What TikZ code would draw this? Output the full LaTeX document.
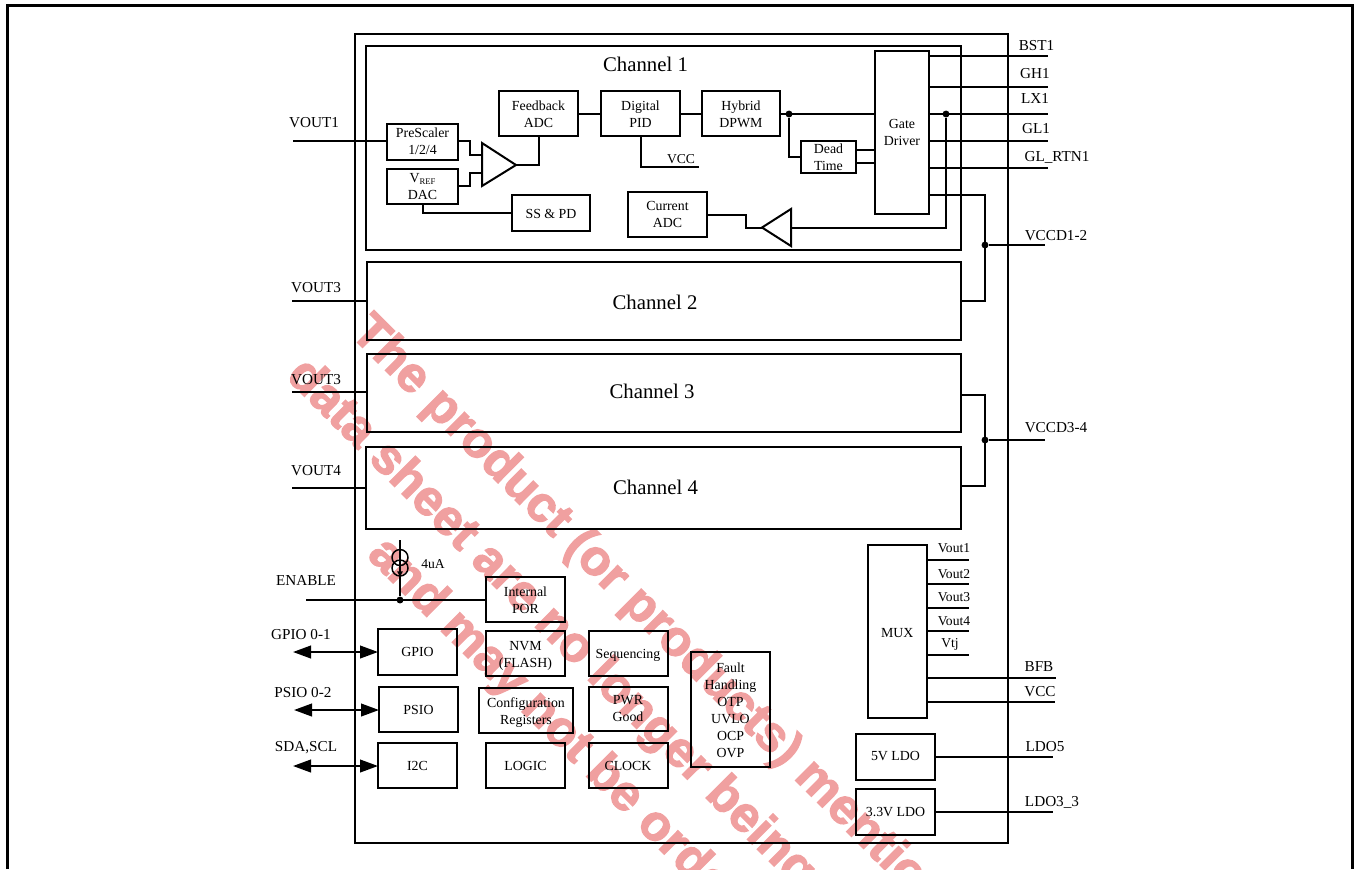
\documentclass[tikz,border=0pt]{standalone}
\usepackage{fontspec}
\setmainfont{Liberation Serif}
\newfontfamily\wmfont[UprightFont=* Bold,UprightFeatures={FakeBold=2.5}]{Liberation Sans}
\usetikzlibrary{arrows.meta,calc}
\definecolor{wmpink}{RGB}{240,160,160}
\newcommand{\dn}{\rule{0pt}{8.6pt}}
\newcommand{\dnn}{\rule{0pt}{10pt}}
\tikzset{
  x=0.75pt,y=-0.75pt,
  wire/.style={line width=1.5pt,line join=miter},
  thinwire/.style={line width=1.2pt},
  blk/.style={draw,line width=1.5pt,inner sep=0pt,outer sep=0pt,align=center,font=\fontsize{10.4}{12.75}\selectfont},
  chan/.style={blk},
  chlabel/.style={inner sep=0pt,outer sep=0pt,font=\fontsize{15.6}{19}\selectfont},
  pin/.style={inner sep=0pt,outer sep=0pt,yshift=-0.75pt,font=\fontsize{11.4}{14}\selectfont},
  small/.style={inner sep=0pt,outer sep=0pt,yshift=-0.75pt,font=\fontsize{10.2}{12}\selectfont},
  junction/.style={circle,fill,inner sep=0pt,minimum size=5.2pt},
  bus/.style={wire,{Triangle[length=13.5pt,width=9.5pt]}-{Triangle[length=13.5pt,width=9.5pt]}},
  wm/.style={anchor=base west,inner sep=0pt,rotate=-45,text=wmpink,font=\wmfont\fontsize{37.5}{46}\selectfont}
}
% name, x1, y1, x2, y2, text, style
\newcommand{\blkbox}[7][blk]{%
  \pgfmathsetmacro{\bw}{(#5-#3)*0.75}%
  \pgfmathsetmacro{\bh}{(#6-#4)*0.75}%
  \node[#1,minimum width=\bw pt,minimum height=\bh pt] (#2) at ({(#3+#5)/2},{(#4+#6)/2}) {#7};%
}
\begin{document}
\begin{tikzpicture}
\useasboundingbox (0,0) rectangle (1354,869);
% watermark
\begin{scope}
\clip (0,0) rectangle (1354,869);
\node[wm] (wmA) at (349,334) {The product (or products) mentio};
\node[wm] (wmB) at (285,377) {data sheet are no longer being};
\node[wm] (wmC) at (366,556) {and may not be orde};
\end{scope}
% page frame
\draw[line width=2.5pt] (7.5,869) -- (7.5,5.5) -- (1352.2,5.5) -- (1352.2,869);
% chip
\blkbox{chip}{354.5}{33.5}{1007.5}{843}{}
% channels
\blkbox[chan]{ch1}{366}{45.5}{961}{249.5}{}
\node[chlabel] (ch1t) at (645.5,64) {Channel 1};
\blkbox[chan]{ch2}{367}{262}{961}{340}{}
\node[chlabel] (ch2t) at (655,302) {Channel 2};
\blkbox[chan]{ch3}{367}{353.5}{961}{432}{}
\node[chlabel] (ch3t) at (652,391) {Channel 3};
\blkbox[chan]{ch4}{366}{447}{961}{529}{}
\node[chlabel] (ch4t) at (655.5,487) {Channel 4};
% channel 1 blocks
\blkbox{pre}{387}{123.5}{458}{159.5}{PreScaler\\1/2/4}
\blkbox{dac}{387}{169}{458}{204}{V\raisebox{-0.35ex}{\fontsize{6.5}{7}\selectfont REF}\\DAC}
\blkbox{fadc}{499}{91}{578}{136}{\dn Feedback\\ADC}
\blkbox{pid}{601}{91}{680}{136}{\dn Digital\\PID}
\blkbox{pwm}{702}{91}{780}{136}{\dn Hybrid\\DPWM}
\blkbox{dead}{801}{141}{856}{173}{Dead\\Time}
\blkbox{gate}{875}{51}{929}{214}{Gate\\Driver}
\blkbox{sspd}{512}{195}{590}{231}{\dn SS \& PD}
\blkbox{cadc}{628}{192}{707}{237}{Current\\ADC}
% amplifiers
\coordinate (a1t) at (482,143);
\coordinate (a1b) at (482,186);
\coordinate (a1o) at (516,165);
\draw[wire] (a1t) -- (a1o) -- (a1b) -- cycle;
\coordinate (a2t) at (791,209);
\coordinate (a2b) at (791,246);
\coordinate (a2o) at (762,227.5);
\draw[wire] (a2t) -- (a2o) -- (a2b) -- cycle;
% channel 1 wiring
\coordinate (cvout1) at (293,141);
\draw[wire] (cvout1) -- (pre.west |- cvout1);
\draw[wire] (pre.east |- cvout1) -| (470,155) -- (482,155);
\draw[wire] (dac.east |- 0,186) -| (470,173) -- (482,173);
\draw[wire] (a1o) -| (fadc.south -| 539,0);
\draw[wire] (423,204) |- (sspd.west);
\draw[wire] (fadc.east) -- (pid.west);
\draw[wire] (pid.east) -- (pwm.west);
\draw[wire] (pwm.east) -- (gate.west |- pwm.east);
\node[junction] (j1) at (789,114) {};
\draw[wire] (j1) |- (dead.west);
\draw[wire] (dead.east |- 0,150) -- (gate.west |- 0,150);
\draw[wire] (dead.east |- 0,163) -- (gate.west |- 0,163);
\coordinate (cvcc) at (699,167);
\draw[wire] (pid.south) |- (cvcc);
\node[small] (lvcc) at (681,158) {VCC};
% gate driver outputs
\coordinate (cbst) at (1048,56);
\coordinate (cgh) at (1048,87);
\coordinate (clx) at (1048,114);
\coordinate (cgl) at (1048,141);
\coordinate (crtn) at (1048,168);
\draw[wire] (gate.east |- cbst) -- (cbst);
\draw[wire] (gate.east |- cgh) -- (cgh);
\draw[wire] (gate.east |- clx) -- (clx);
\draw[wire] (gate.east |- cgl) -- (cgl);
\draw[wire] (gate.east |- crtn) -- (crtn);
\node[junction] (j2) at (946,114) {};
\draw[wire] (j2) |- (a2t |- a2o);
\draw[wire] (a2o) -- (746,227.5) |- (cadc.east);
% VCCD
\node[junction] (j3) at (985,245) {};
\coordinate (cvccd12) at (1045,245);
\draw[wire] (gate.east |- 0,195) -| (985,301) -- (ch2.east |- 0,301);
\draw[wire] (j3) -- (cvccd12);
\node[junction] (j4) at (985,440) {};
\coordinate (cvccd34) at (1045,440);
\draw[wire] (ch3.east |- 0,395) -| (985,486) -- (ch4.east |- 0,486);
\draw[wire] (j4) -- (cvccd34);
% left inputs
\coordinate (cvout2) at (292,301);
\coordinate (cvout3) at (292,392);
\coordinate (cvout4) at (292,488);
\draw[wire] (cvout2) -- (ch2.west |- cvout2);
\draw[wire] (cvout3) -- (ch3.west |- cvout3);
\draw[wire] (cvout4) -- (ch4.west |- cvout4);
% pin labels
\node[pin] (lbst) at (1036.5,45) {BST1};
\node[pin] (lgh) at (1035,73) {GH1};
\node[pin] (llx) at (1035,97.5) {LX1};
\node[pin] (lgl) at (1036,128) {GL1};
\node[pin] (lrtn) at (1057,156) {GL\_RTN1};
\node[pin] (lv12) at (1056,235) {VCCD1-2};
\node[pin] (lv34) at (1056,427) {VCCD3-4};
\node[pin] (lvo1) at (314,122) {VOUT1};
\node[pin] (lvo2) at (316,287) {VOUT3};
\node[pin] (lvo3) at (316,378.5) {VOUT3};
\node[pin] (lvo4) at (316,470) {VOUT4};
% enable
\blkbox{por}{486}{577}{565}{622}{\dn Internal\\POR}
\coordinate (cen) at (306,600);
\draw[wire] (cen) -- (por.west |- cen);
\node[junction] (j5) at (400,600) {};
\coordinate (cbias) at (400,540);
\draw[thinwire] (cbias) -- (j5);
\node[circle,draw,line width=1.1pt,minimum size=12pt,inner sep=0pt] (src1) at (400,557.5) {};
\node[circle,draw,line width=1.1pt,minimum size=12pt,inner sep=0pt] (src2) at (400,568) {};
\draw[line width=1pt,-{Triangle[length=4pt,width=4pt]}] (src2.center) -- (src2.south);
\node[small] (l4ua) at (433,563) {4uA};
\node[pin] (len) at (306,579) {ENABLE};
% bottom blocks
\blkbox{gpio}{378}{629}{457}{675}{GPIO}
\blkbox{psio}{379}{687}{458}{732}{PSIO}
\blkbox{iic}{378}{743}{457}{788}{I2C}
\blkbox{nvm}{486}{631}{565}{676}{\dnn NVM\\(FLASH)}
\blkbox{cfg}{479}{688}{573}{733}{\dnn Configuration\\Registers}
\blkbox{logic}{486}{743}{565}{788}{LOGIC}
\blkbox{seq}{588.5}{631}{667.5}{676}{\dnn Sequencing}
\blkbox{pg}{588.5}{686.5}{667.5}{731}{PWR\\Good}
\blkbox{clk}{588.5}{743}{667.5}{788}{CLOCK}
\blkbox{fault}{691}{652}{770}{767}{\dn Fault\\Handling\\OTP\\UVLO\\OCP\\OVP}
% bidirectional
\coordinate (cgp) at (293,652);
\coordinate (cps) at (294,710);
\coordinate (ci2) at (293,766);
\draw[bus] (cgp) -- (gpio.west |- cgp);
\draw[bus] (cps) -- (psio.west |- cps);
\draw[bus] (ci2) -- (iic.west |- ci2);
\node[pin] (lgp) at (301,634) {GPIO 0-1};
\node[pin] (lps) at (303,692) {PSIO 0-2};
\node[pin] (li2) at (306,747) {SDA,SCL};
% MUX
\blkbox{mux}{867.5}{545}{927}{718}{\dn MUX}
\foreach \yy/\nm in {560/a,584/b,607.5/c,631/d,654.5/e}{
  \coordinate (cm\nm) at (969,\yy);
  \draw[wire] (mux.east |- cm\nm) -- (cm\nm);
}
\node[small] (lm1) at (954,547) {Vout1};
\node[small] (lm2) at (954,573) {Vout2};
\node[small] (lm3) at (954,596) {Vout3};
\node[small] (lm4) at (954,620) {Vout4};
\node[small] (lm5) at (950,643) {Vtj};
\coordinate (cbfb) at (1056,678);
\coordinate (cvcc2) at (1055,702);
\draw[wire] (mux.east |- cbfb) -- (cbfb);
\draw[wire] (mux.east |- cvcc2) -- (cvcc2);
\node[pin] (lbfb) at (1039,666) {BFB};
\node[pin] (lvc) at (1040,691) {VCC};
% LDOs
\blkbox{ldoa}{856}{733.5}{935}{779.5}{5V LDO}
\blkbox{ldob}{856}{788.5}{935}{834.5}{3.3V LDO}
\coordinate (cl5) at (1053,756.5);
\coordinate (cl3) at (1053,811.5);
\draw[wire] (ldoa.east) -- (cl5);
\draw[wire] (ldob.east) -- (cl3);
\node[pin] (ll5) at (1045,746) {LDO5};
\node[pin] (ll3) at (1052,801) {LDO3\_3};
\end{tikzpicture}
\end{document}
